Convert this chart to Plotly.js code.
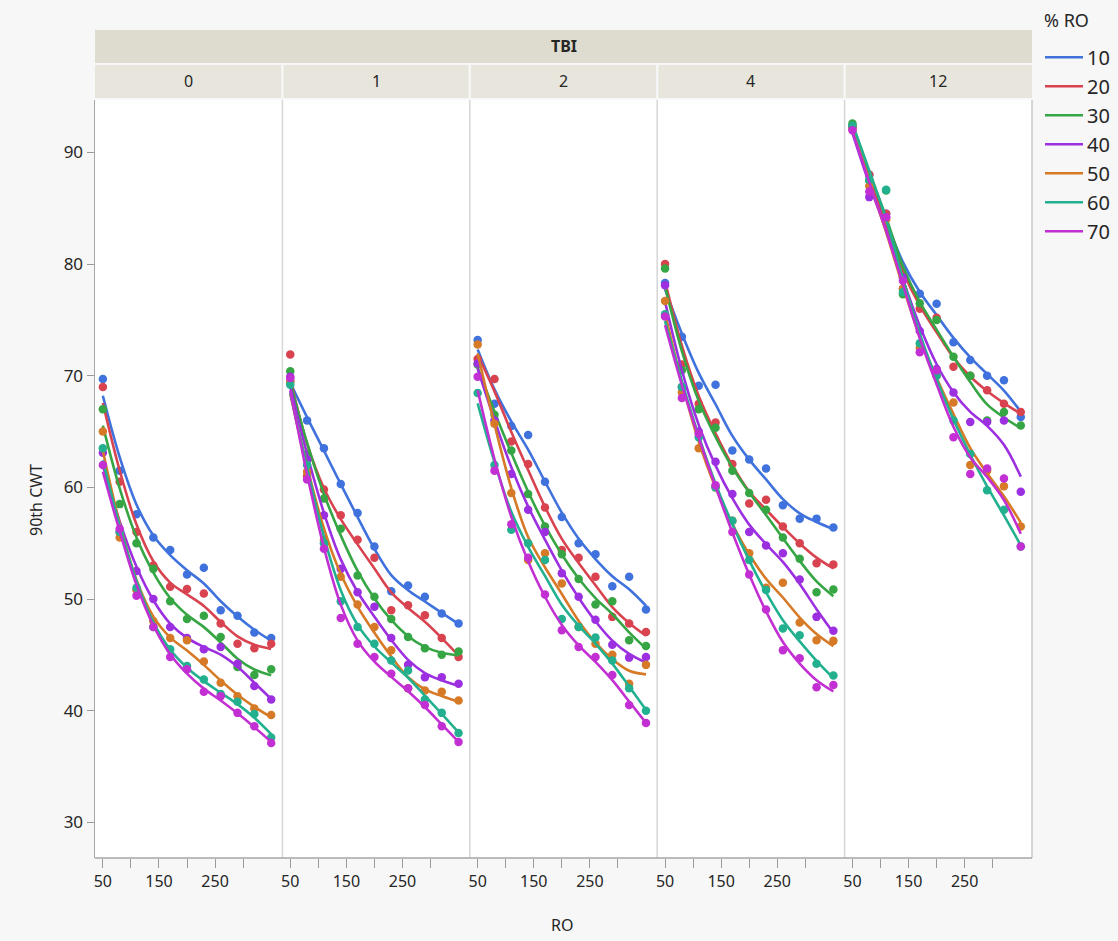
<!DOCTYPE html>
<html>
<head>
<meta charset="utf-8">
<script src="https://cdn.plot.ly/plotly-3.0.1.min.js"></script>
<style>
  html, body { margin: 0; padding: 0; background: #f7f7f7; }
  #chart { width: 1118px; height: 941px; }
</style>
</head>
<body>
<div id="chart"></div>
<script>
// ---------------- data ----------------
const RO = [50, 80, 110, 140, 170, 200, 230, 260, 290, 320, 350];
const TBI_LEVELS = ['0', '1', '2', '4', '12'];
const PCT_RO = ['10', '20', '30', '40', '50', '60', '70'];
const X_TICKS = [50, 100, 150, 200, 250, 300];
const X_TICK_TEXT = ['50', '', '150', '', '250', ''];
const Y_TICKS = [30, 40, 50, 60, 70, 80, 90];

// rows: % RO = 10, 20, 30, 40, 50, 60, 70 ; columns: RO values
const TBI0 = [
  [69.7, 61.5, 57.6, 55.5, 54.4, 52.2, 52.8, 49.0, 48.5, 47.0, 46.5],
  [69.0, 60.5, 56.0, 53.0, 51.1, 50.9, 50.5, 47.8, 46.0, 45.6, 46.0],
  [67.0, 58.5, 55.0, 52.7, 49.8, 48.2, 48.5, 46.6, 43.9, 43.2, 43.7],
  [63.1, 56.0, 52.5, 50.0, 47.5, 46.5, 45.5, 45.7, 44.2, 42.2, 41.0],
  [65.0, 55.5, 50.8, 48.0, 46.5, 46.3, 44.4, 42.5, 41.3, 40.2, 39.6],
  [63.5, 56.0, 51.0, 47.5, 45.5, 44.0, 42.8, 41.5, 40.8, 39.7, 37.6],
  [62.0, 56.3, 50.3, 47.5, 44.8, 43.7, 41.7, 41.3, 39.8, 38.6, 37.1]
];
const TBI1 = [
  [69.5, 66.0, 63.5, 60.3, 57.7, 54.7, 50.7, 51.2, 50.2, 48.7, 47.8],
  [71.9, 61.0, 59.8, 57.5, 55.3, 53.7, 49.0, 49.45, 48.55, 46.5, 44.8],
  [70.4, 63.0, 59.0, 56.3, 52.1, 50.2, 48.2, 46.6, 45.6, 45.0, 45.3],
  [69.9, 62.5, 57.5, 52.7, 50.6, 49.3, 46.5, 44.1, 43.0, 43.0, 42.4],
  [69.5, 61.4, 55.3, 52.0, 49.5, 47.5, 45.4, 42.0, 41.8, 41.7, 40.9],
  [69.2, 62.0, 55.0, 49.8, 47.5, 46.0, 44.5, 43.6, 41.0, 39.8, 38.0],
  [69.8, 60.7, 54.5, 48.3, 46.0, 44.8, 43.3, 42.0, 40.5, 38.6, 37.2]
];
const TBI2 = [
  [73.2, 67.5, 65.5, 64.7, 60.5, 57.35, 55.0, 54.0, 51.15, 52.0, 49.05],
  [71.5, 69.7, 64.1, 62.1, 58.2, 54.4, 53.7, 52.0, 48.4, 47.8, 47.05],
  [71.0, 66.5, 63.3, 59.4, 56.5, 54.0, 51.8, 49.5, 49.8, 46.3, 45.8],
  [71.1, 66.0, 61.2, 58.0, 56.0, 52.3, 50.2, 48.15, 45.9, 44.75, 44.8],
  [72.8, 65.7, 59.5, 53.5, 54.1, 51.4, 47.5, 46.0, 45.0, 42.4, 44.1],
  [68.45, 62.0, 56.2, 55.0, 53.5, 48.2, 47.5, 46.55, 44.5, 42.0, 40.0],
  [69.9, 61.5, 56.7, 53.7, 50.4, 47.2, 45.7, 44.8, 43.2, 40.5, 38.9]
];
const TBI4 = [
  [78.3, 73.5, 69.1, 69.2, 63.3, 62.5, 61.7, 58.4, 57.2, 57.2, 56.4],
  [80.0, 71.0, 67.5, 65.8, 62.1, 58.55, 58.9, 56.5, 55.0, 53.2, 53.1],
  [79.6, 70.5, 67.0, 65.35, 61.5, 59.5, 58.0, 55.5, 53.6, 50.6, 50.85],
  [78.1, 69.0, 65.0, 62.3, 59.4, 56.0, 54.8, 54.1, 51.75, 48.4, 47.15],
  [76.7, 68.5, 63.5, 60.0, 57.0, 54.1, 51.0, 51.45, 47.9, 46.3, 46.25],
  [75.5, 69.0, 64.5, 60.0, 57.0, 53.5, 50.8, 47.35, 46.75, 44.2, 43.15],
  [75.3, 68.0, 64.8, 60.2, 56.0, 52.2, 49.05, 45.4, 44.7, 42.1, 42.3]
];
const TBI12 = [
  [92.3, 88.0, 84.5, 78.8, 77.35, 76.45, 73.0, 71.4, 70.0, 69.6, 66.3],
  [92.4, 88.0, 84.5, 77.8, 76.0, 75.2, 70.8, 70.0, 68.7, 67.5, 66.75],
  [92.6, 87.5, 86.6, 77.3, 76.5, 75.0, 71.7, 70.0, 66.0, 66.75, 65.55],
  [92.2, 86.0, 84.2, 78.8, 74.0, 70.6, 68.5, 65.85, 65.85, 66.0, 59.6],
  [92.2, 87.0, 84.0, 77.8, 72.5, 70.0, 67.6, 62.0, 61.5, 60.1, 56.5],
  [92.4, 87.55, 86.65, 77.5, 72.9, 70.0, 66.0, 63.0, 59.75, 58.0, 54.7],
  [92.0, 86.5, 84.2, 78.5, 72.1, 70.5, 64.5, 61.2, 61.7, 60.8, 54.7]
];
const PANELS = [TBI0, TBI1, TBI2, TBI4, TBI12];

// ---------------- styling ----------------
const COLORS = ['#3f72dc', '#d8434f', '#36a544', '#9c2fe0', '#d67a27', '#22b08f', '#c22fd3'];
const FONT = '"Segoe UI", "Noto Sans", "Open Sans", sans-serif';
const W = 1118, H = 941;
const M = { l: 95, r: 86, t: 100, b: 83 };
const PW = W - M.l - M.r, PH = H - M.t - M.b;
const px2x = px => (px - M.l) / PW;
const py2y = py => (H - M.b - py) / PH;

// Whittaker smoother (second-difference penalty) for the fitted curves
function smooth(y, lambda) {
  const n = y.length;
  const A = [];
  for (let i = 0; i < n; i++) { A.push(new Array(n).fill(0)); A[i][i] = 1; }
  for (let k = 0; k < n - 2; k++) {
    const d = [1, -2, 1];
    for (let a = 0; a < 3; a++) for (let b = 0; b < 3; b++) A[k + a][k + b] += lambda * d[a] * d[b];
  }
  const bvec = y.slice();
  for (let i = 0; i < n; i++) {
    let p = i;
    for (let r = i + 1; r < n; r++) if (Math.abs(A[r][i]) > Math.abs(A[p][i])) p = r;
    [A[i], A[p]] = [A[p], A[i]]; [bvec[i], bvec[p]] = [bvec[p], bvec[i]];
    for (let r = i + 1; r < n; r++) {
      const f = A[r][i] / A[i][i];
      for (let c = i; c < n; c++) A[r][c] -= f * A[i][c];
      bvec[r] -= f * bvec[i];
    }
  }
  const z = new Array(n).fill(0);
  for (let i = n - 1; i >= 0; i--) {
    let s = bvec[i];
    for (let c = i + 1; c < n; c++) s -= A[i][c] * z[c];
    z[i] = s / A[i][i];
  }
  return z;
}

const traces = [];
PANELS.forEach((panel, p) => {
  const xa = p === 0 ? 'x' : 'x' + (p + 1);
  panel.forEach((vals, s) => {
    traces.push({
      type: 'scatter', mode: 'markers', x: RO, y: vals, xaxis: xa, yaxis: 'y',
      marker: { color: COLORS[s], size: 8.5, line: { width: 0 } },
      showlegend: false, hoverinfo: 'x+y', cliponaxis: false
    });
    traces.push({
      type: 'scatter', mode: 'lines', x: RO, y: smooth(vals, 1.2), xaxis: xa, yaxis: 'y',
      line: { color: COLORS[s], width: 2.6, shape: 'spline', smoothing: 1 },
      showlegend: false, hoverinfo: 'skip'
    });
  });
});

const layout = {
  width: W, height: H,
  margin: M,
  paper_bgcolor: '#f7f7f7',
  plot_bgcolor: '#ffffff',
  font: { family: FONT, size: 15, color: '#262626' },
  showlegend: false,
  yaxis: {
    range: [26.8, 94.7], tickvals: Y_TICKS, ticks: 'outside', ticklen: 7, tickcolor: '#9a9a9a',
    showgrid: false, zeroline: false, showline: true, linecolor: '#a6a6a6', linewidth: 1.5,
    tickfont: { size: 17, color: '#262626' }, fixedrange: true
  },
  shapes: [], annotations: []
};
TBI_LEVELS.forEach((lvl, p) => {
  const key = p === 0 ? 'xaxis' : 'xaxis' + (p + 1);
  layout[key] = {
    domain: [p / 5, (p + 1) / 5], anchor: 'y', range: [36, 370],
    tickvals: X_TICKS, ticktext: X_TICK_TEXT, ticks: 'outside', ticklen: 9, tickcolor: '#9a9a9a',
    showgrid: false, zeroline: false, showline: false,
    tickfont: { size: 16, color: '#262626' }, fixedrange: true
  };
});

// panel frame lines
for (let p = 1; p <= 5; p++) {
  layout.shapes.push({ type: 'line', xref: 'paper', yref: 'paper', x0: p / 5, x1: p / 5, y0: 0, y1: 1,
    line: { color: p === 5 ? '#c8c8c8' : '#d6d6d6', width: 1.5 } });
}
layout.shapes.push({ type: 'line', xref: 'paper', yref: 'paper', x0: 0, x1: 1, y0: 0, y1: 0,
  line: { color: '#a6a6a6', width: 1.5 } });

// strips
layout.shapes.push({ type: 'rect', xref: 'paper', yref: 'paper', x0: 0, x1: 1, y0: py2y(63), y1: py2y(30),
  fillcolor: '#dedcce', line: { width: 0 }, layer: 'below' });
TBI_LEVELS.forEach((lvl, p) => {
  layout.shapes.push({ type: 'rect', xref: 'paper', yref: 'paper',
    x0: p / 5 + (p === 0 ? 0 : 0.0012), x1: (p + 1) / 5 - (p === 4 ? 0 : 0.0012),
    y0: py2y(98), y1: py2y(65), fillcolor: '#e8e6dc', line: { width: 0 }, layer: 'below' });
  layout.annotations.push({ xref: 'paper', yref: 'paper', x: (p + 0.5) / 5, y: py2y(81),
    text: lvl, showarrow: false, font: { size: 16, color: '#262626' }, xanchor: 'center', yanchor: 'middle' });
});
layout.annotations.push({ xref: 'paper', yref: 'paper', x: 0.5, y: py2y(46), text: '<b>TBI</b>',
  showarrow: false, font: { size: 16, color: '#262626' }, xanchor: 'center', yanchor: 'middle' });

// axis titles
layout.annotations.push({ xref: 'paper', yref: 'paper', x: px2x(36), y: py2y(500), text: '90th CWT',
  textangle: -90, showarrow: false, font: { size: 16, color: '#262626' }, xanchor: 'center', yanchor: 'middle' });
layout.annotations.push({ xref: 'paper', yref: 'paper', x: px2x(562), y: py2y(925), text: 'RO',
  showarrow: false, font: { size: 16, color: '#262626' }, xanchor: 'center', yanchor: 'middle' });

// legend
layout.annotations.push({ xref: 'paper', yref: 'paper', x: px2x(1042), y: py2y(20), text: '% RO',
  showarrow: false, font: { size: 18, color: '#262626' }, xanchor: 'left', yanchor: 'middle' });
PCT_RO.forEach((lab, s) => {
  const yy = 57.3 + s * 29;
  layout.shapes.push({ type: 'line', xref: 'paper', yref: 'paper', x0: px2x(1045), x1: px2x(1083),
    y0: py2y(yy), y1: py2y(yy), line: { color: COLORS[s], width: 2.6 } });
  layout.annotations.push({ xref: 'paper', yref: 'paper', x: px2x(1085), y: py2y(yy), text: lab,
    showarrow: false, font: { size: 20, color: '#262626' }, xanchor: 'left', yanchor: 'middle' });
});

Plotly.newPlot('chart', traces, layout, { staticPlot: true, displayModeBar: false });
</script>
</body>
</html>
